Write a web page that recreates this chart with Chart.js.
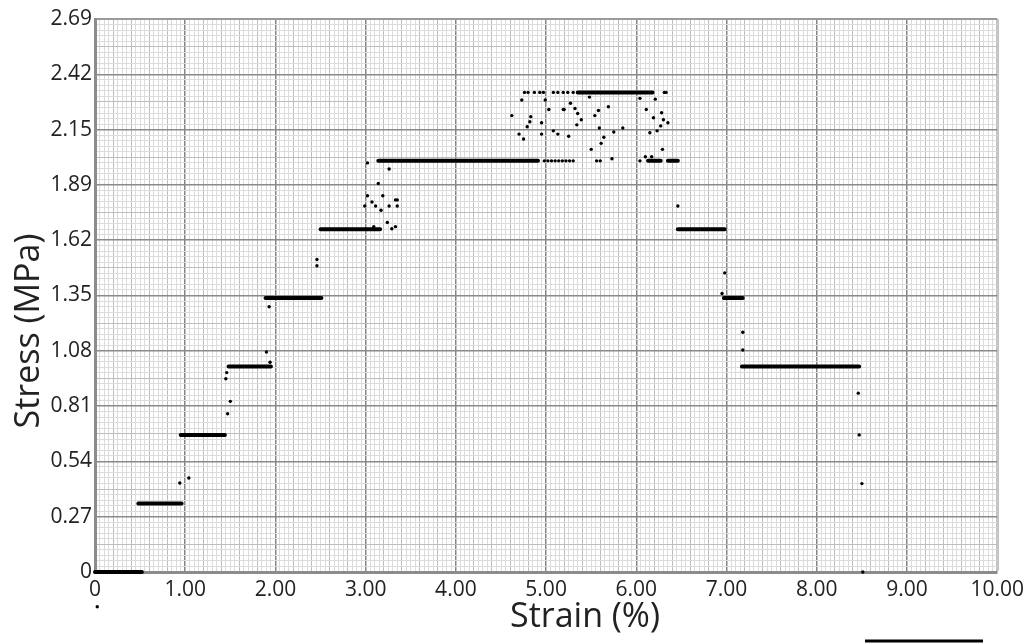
<!DOCTYPE html>
<html>
<head>
<meta charset="utf-8">
<script src="https://cdn.jsdelivr.net/npm/chart.js@4.4.0/dist/chart.umd.min.js"></script>
<style>
  html, body { margin: 0; padding: 0; background: #fff; }
  #wrap { width: 1029px; height: 644px; }
</style>
</head>
<body>
<div id="wrap"><canvas id="stressChart" width="1029" height="644"></canvas></div>
<script>
// axis labels
const xTickLabels = ["0", "1.00", "2.00", "3.00", "4.00", "5.00", "6.00", "7.00", "8.00", "9.00", "10.00"];
const yTickLabels = ["0", "0.27", "0.54", "0.81", "1.08", "1.35", "1.62", "1.89", "2.15", "2.42", "2.69"];
const xTitle = "Strain (%)";
const yTitle = "Stress (MPa)";

// load steps: stress level held over a strain range
const stepLevel = [0, 0.333, 0.667, 1.0, 1.333, 1.667, 2.0, 2.333, 2.0, 2.0, 1.667, 1.333, 1.0];
const stepStart = [0, 0.48, 0.95, 1.48, 1.89, 2.50, 3.14, 5.35, 6.13, 6.35, 6.46, 6.97, 7.17];
const stepEnd   = [0.52, 0.96, 1.44, 1.95, 2.51, 3.16, 4.91, 6.18, 6.27, 6.46, 6.98, 7.18, 8.47];

// single readings between / around the steps
const dotX = [
  0.94, 1.04,
  1.46, 1.45, 1.50, 1.47,
  1.90, 1.94, 1.93,
  2.46, 2.46,
  3.02, 3.26, 3.14, 3.02, 3.07, 3.11, 2.99, 3.19, 3.33, 3.35, 3.26, 3.35, 3.17, 3.24, 3.09, 3.29, 3.33,
  4.98, 5.02, 5.06, 5.10, 5.14, 5.18, 5.22, 5.26, 5.30, 5.56, 5.60, 5.73, 6.04,
  4.76, 4.80, 4.87, 4.93, 4.97, 5.08, 5.13, 5.19, 5.24, 5.30, 6.33, 6.31,
  4.73, 4.62, 4.83, 4.82, 4.79, 4.70, 4.75, 4.95, 4.95, 4.99, 5.03, 5.08, 5.13, 5.19, 5.20,
  5.25, 5.27, 5.32, 5.35, 5.39, 5.34, 5.48, 5.54, 5.58, 5.69, 5.59, 5.75, 5.85, 5.64, 5.61, 5.50,
  6.04, 6.21, 6.11, 6.28, 6.19, 6.30, 6.35, 6.27, 6.23, 6.15, 6.29, 6.17, 6.10,
  6.46, 6.98, 6.95, 7.18, 7.18,
  8.46, 8.47, 8.50, 8.51, 0.025
];
const dotY = [
  0.433, 0.457,
  0.97, 0.94, 0.83, 0.77,
  1.07, 1.02, 1.29,
  1.52, 1.49,
  1.99, 1.96, 1.89, 1.83, 1.80, 1.78, 1.78, 1.83, 1.81, 1.81, 1.78, 1.78, 1.76, 1.70, 1.68, 1.67, 1.68,
  2.0, 2.0, 2.0, 2.0, 2.0, 2.0, 2.0, 2.0, 2.0, 2.0, 2.0, 2.01, 2.0,
  2.333, 2.333, 2.333, 2.333, 2.333, 2.333, 2.333, 2.333, 2.333, 2.333, 2.333, 2.333,
  2.296, 2.22, 2.215, 2.19, 2.166, 2.13, 2.106, 2.185, 2.13, 2.296, 2.25, 2.146, 2.13, 2.25, 2.25,
  2.12, 2.28, 2.255, 2.23, 2.20, 2.175, 2.31, 2.22, 2.245, 2.263, 2.16, 2.14, 2.16, 2.115, 2.085, 2.056,
  2.304, 2.30, 2.25, 2.234, 2.21, 2.20, 2.185, 2.17, 2.146, 2.137, 2.056, 2.02, 2.02,
  1.78, 1.455, 1.355, 1.166, 1.08,
  0.87, 0.667, 0.43, 0, -0.169
];

// grid positions: 0.05 % strain and 1/100 of the stress range
const xGridValues = [];
for (let i = 0; i <= 200; i++) xGridValues.push(i * 0.05);
const yGridValues = [];
for (let j = 0; j <= 100; j++) yGridValues.push(j * 0.0269);

const stepData = [];
stepLevel.forEach((lvl, k) => {
  stepData.push({ x: stepStart[k], y: lvl });
  stepData.push({ x: stepEnd[k], y: lvl });
  stepData.push({ x: stepEnd[k], y: null });
});
const dotData = dotX.map((x, k) => ({ x: x, y: dotY[k] }));

// titles, readings below the axis (chart.js skips points outside the area) and the stray rule
const extras = {
  id: "extras",
  afterDraw(chart) {
    const ctx = chart.ctx;
    const sx = chart.scales.x;
    const sy = chart.scales.y;
    ctx.save();
    ctx.fillStyle = "#000";
    dotData.forEach((p) => {
      if (p.y < 0) {
        ctx.beginPath();
        ctx.arc(sx.getPixelForValue(p.x), sy.getPixelForValue(p.y), 1.7, 0, Math.PI * 2);
        ctx.fill();
      }
    });
    ctx.fillStyle = "#222";
    ctx.font = "34px 'Open Sans'";
    ctx.textAlign = "center";
    ctx.textBaseline = "middle";
    ctx.fillText(xTitle, 585, 617);
    ctx.translate(29, 331);
    ctx.rotate(-Math.PI / 2);
    ctx.fillText(yTitle, 0, 0);
    ctx.restore();
    ctx.save();
    ctx.strokeStyle = "#000";
    ctx.lineWidth = 3;
    ctx.beginPath();
    ctx.moveTo(865, 641);
    ctx.lineTo(983, 641);
    ctx.stroke();
    ctx.restore();
  }
};

const tickFont = { family: "'Open Sans'", size: 21 };

new Chart(document.getElementById("stressChart"), {
  type: "scatter",
  data: {
    datasets: [
      {
        label: "steps",
        data: stepData,
        showLine: true,
        spanGaps: false,
        borderColor: "#000",
        borderWidth: 4,
        borderCapStyle: "round",
        pointRadius: 0,
        clip: false
      },
      {
        label: "readings",
        data: dotData,
        pointRadius: 1.7,
        pointBackgroundColor: "#000",
        pointBorderWidth: 0,
        clip: false
      }
    ]
  },
  options: {
    responsive: false,
    animation: false,
    devicePixelRatio: 1,
    layout: { padding: { top: 19, right: 29, left: 0, bottom: 0 } },
    plugins: {
      legend: { display: false },
      tooltip: { enabled: false }
    },
    scales: {
      x: {
        type: "linear",
        min: 0,
        max: 10,
        afterBuildTicks: (scale) => {
          scale.ticks = xGridValues.map((v) => ({ value: v }));
        },
        afterFit: (scale) => {
          scale.height = 72;
        },
        ticks: {
          autoSkip: false,
          maxRotation: 0,
          padding: 5,
          color: "#222",
          font: tickFont,
          callback: (v, i) => (i % 20 === 0 ? xTickLabels[i / 20] : "")
        },
        grid: {
          drawTicks: false,
          color: (c) => {
            if (c.index === 200) return "#c4c4c4";
            if (c.index % 20 === 0) return "#858585";
            if (c.index % 4 === 0) return "#bdbdbd";
            return "#dcdcdc";
          },
          lineWidth: (c) => {
            if (c.index === 200) return 3;
            if (c.index % 20 === 0) return 1.5;
            return 1;
          }
        },
        border: { color: "#8c8c8c", width: 3 }
      },
      y: {
        type: "linear",
        min: 0,
        max: 2.69,
        afterBuildTicks: (scale) => {
          scale.ticks = yGridValues.map((v) => ({ value: v }));
        },
        afterFit: (scale) => {
          scale.width = 95;
        },
        ticks: {
          autoSkip: false,
          padding: 3,
          color: "#222",
          font: tickFont,
          callback: (v, i) => (i % 10 === 0 ? yTickLabels[i / 10] : "")
        },
        grid: {
          drawTicks: false,
          color: (c) => {
            if (c.index === 100) return "#9a9a9a";
            if (c.index % 10 === 0) return "#8a8a8a";
            if (c.index % 5 === 0) return "#bdbdbd";
            return "#dcdcdc";
          },
          lineWidth: (c) => {
            if (c.index === 100) return 2;
            if (c.index % 10 === 0) return 1.5;
            return 1;
          }
        },
        border: { color: "#8c8c8c", width: 3 }
      }
    }
  },
  plugins: [extras]
});
</script>
</body>
</html>
